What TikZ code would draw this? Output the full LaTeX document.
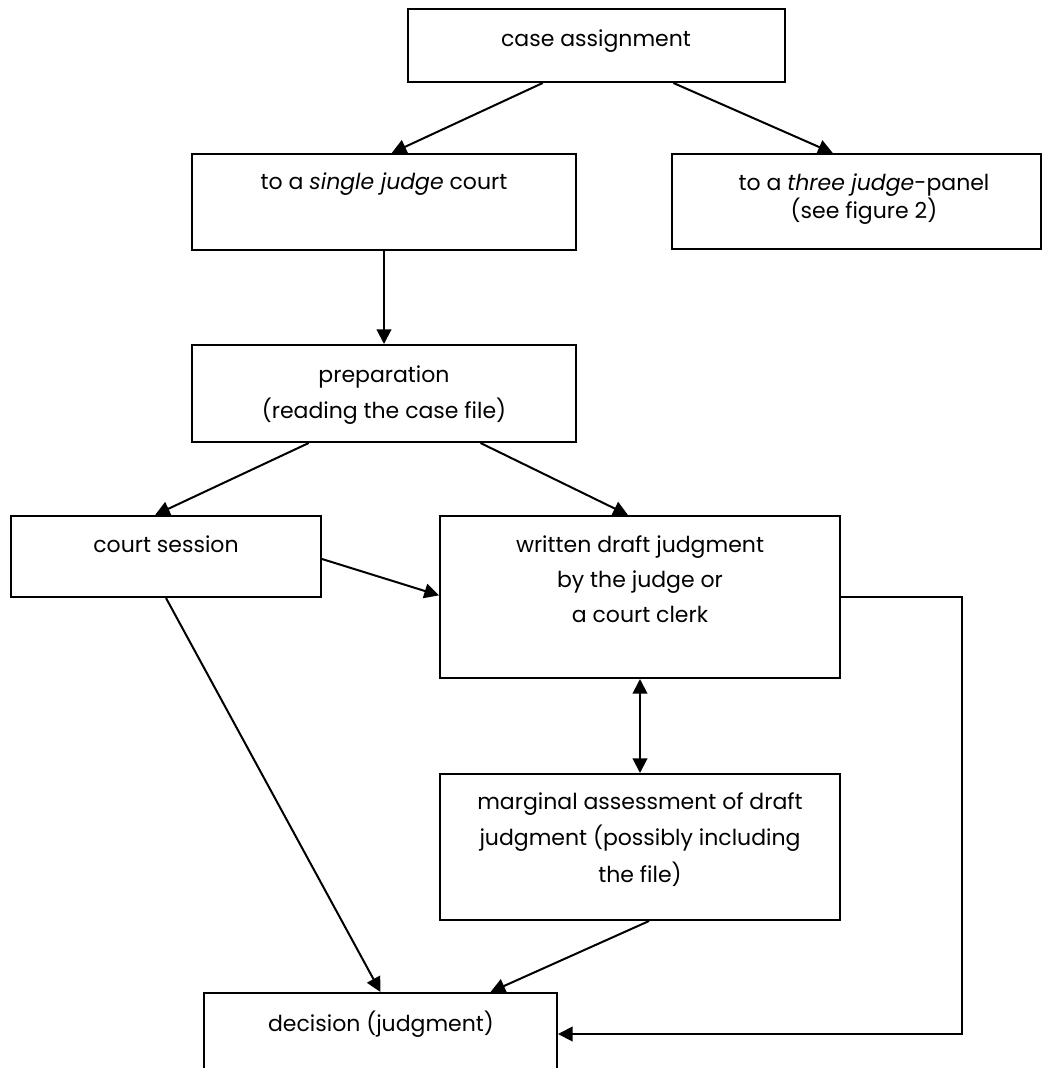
\documentclass[tikz,border=0pt]{standalone}
\usepackage{fontspec}
\setmainfont{Poppins}
\usetikzlibrary{fit,calc,arrows.meta}
\begin{document}
\begin{tikzpicture}[x=0.75pt,y=-0.75pt,
  box/.style={draw, line width=1.5pt, inner sep=0pt, rectangle},
  lbl/.style={anchor=base, inner sep=0pt, font=\fontsize{16.5pt}{19pt}\selectfont},
  conn/.style={line width=1.5pt},
  arr/.style={conn, -{Triangle[length=11pt,width=11pt]}},
  darr/.style={conn, {Triangle[length=11pt,width=11pt]}-{Triangle[length=11pt,width=11pt]}}]
\useasboundingbox (0,0) rectangle (1043,1068);
\clip (0,0) rectangle (1043,1068);
% boxes
\node[box, fit={(408,9) (785,82)}] (case) {};
\node[box, fit={(192,154) (576,250)}] (sj) {};
\node[box, fit={(672,154) (1041,249)}] (tj) {};
\node[box, fit={(192,345) (576,442)}] (prep) {};
\node[box, fit={(11,516) (321,597)}] (cs) {};
\node[box, fit={(440,516) (840,678)}] (wd) {};
\node[box, fit={(440,774) (840,920)}] (mg) {};
\node[box, fit={(204,993) (557,1075)}] (dec) {};
% texts
\node[lbl] (caseT) at (596,46) {case assignment};
\node[lbl] (sjT) at (384,189) {to a \textit{single judge} court};
\node[lbl] (tjT1) at (864,190) {to a \textit{three judge}-panel};
\node[lbl] (tjT2) at (864,218) {(see figure 2)};
\node[lbl] (prepT1) at (384,382) {preparation};
\node[lbl] (prepT2) at (384,418) {(reading the case file)};
\node[lbl] (csT) at (166,552) {court session};
\node[lbl] (wdT1) at (640,552) {written draft judgment};
\node[lbl] (wdT2) at (640,587) {by the judge or};
\node[lbl] (wdT3) at (640,622) {a court clerk};
\node[lbl] (mgT1) at (640,809) {marginal assessment of draft};
\node[lbl] (mgT2) at (640,845) {judgment (possibly including};
\node[lbl] (mgT3) at (640,882) {the file)};
\node[lbl] (decT) at (381,1031) {decision (judgment)};
% connectors
\coordinate (rt) at (962,597);
\draw[arr] ($(case.south west)!0.358!(case.south east)$) -- ($(sj.north west)!0.52!(sj.north east)$);
\draw[arr] ($(case.south west)!0.703!(case.south east)$) -- ($(tj.north west)!0.436!(tj.north east)$);
\draw[arr] (sj.south) -- (prep.north);
\draw[arr] ($(prep.south west)!0.305!(prep.south east)$) -- ($(cs.north west)!0.465!(cs.north east)$);
\draw[arr] ($(prep.south west)!0.75!(prep.south east)$) -- ($(wd.north west)!0.47!(wd.north east)$);
\draw[arr] ($(cs.north east)!0.53!(cs.south east)$) -- ($(wd.north west)!0.49!(wd.south west)$);
\draw[arr] (cs.south) -- (dec.north);
\draw[darr] (wd.south) -- (mg.north);
\draw[arr] ($(mg.south west)!0.5225!(mg.south east)$) -- ($(dec.north west)!0.81!(dec.north east)$);
\draw[arr] (wd.east) -- (rt) |- (dec.east);
\end{tikzpicture}
\end{document}
